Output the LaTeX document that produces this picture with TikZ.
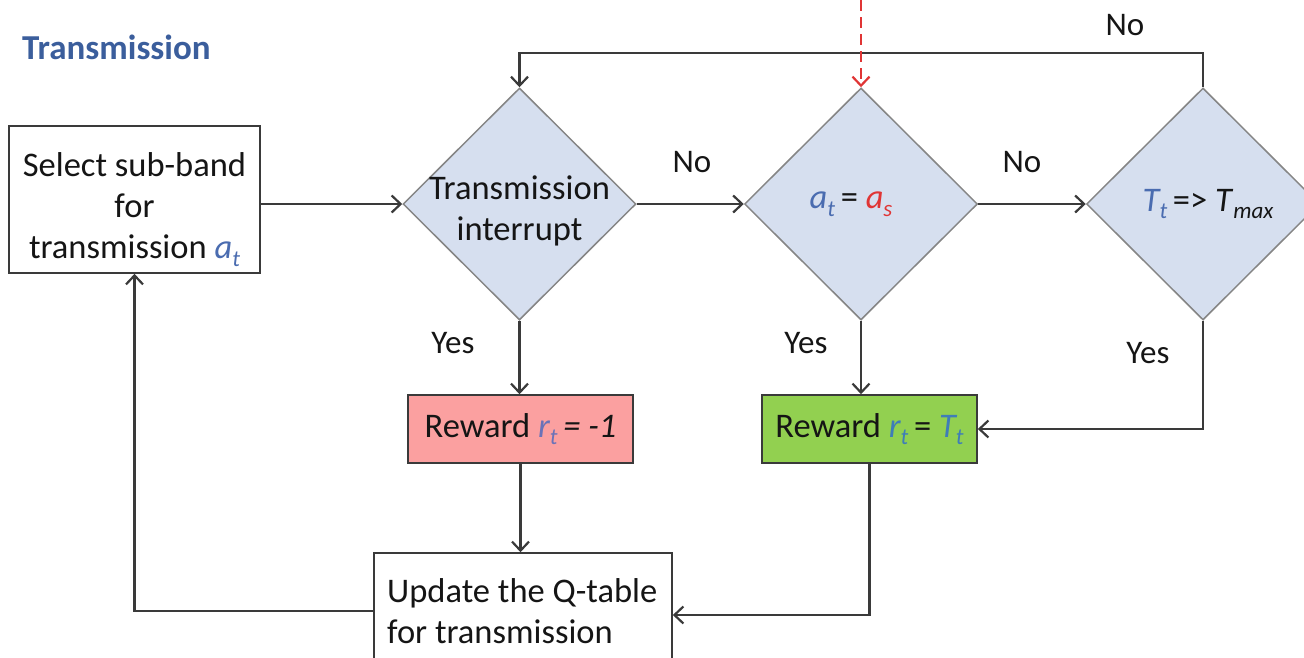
\documentclass[tikz,border=0pt]{standalone}
\usepackage{fontspec}
\setmainfont{Carlito}
\usetikzlibrary{shapes.geometric,arrows.meta}

\definecolor{linegray}{HTML}{3A3A3A}
\definecolor{diagray}{HTML}{858585}
\definecolor{diafill}{HTML}{D6DFEF}
\definecolor{titleblue}{HTML}{3B5E9C}
\definecolor{varblue}{HTML}{4A6CB0}
\definecolor{varred}{HTML}{E03535}
\definecolor{varviolet}{HTML}{6A72B8}
\definecolor{varteal}{HTML}{3F7DB8}
\definecolor{penalty}{HTML}{FBA0A0}
\definecolor{bonus}{HTML}{92D050}
\definecolor{inkblack}{HTML}{151515}

% italic subscript set lower and smaller
\newcommand\lowsub[1]{\raisebox{-0.22em}{\fontsize{23}{23}\selectfont\itshape #1}}
\newcommand\bodyfont{\fontsize{34.5}{41}\selectfont}

\begin{document}
\begin{tikzpicture}[x=1pt,y=-1pt,
  every node/.style={text=inkblack},
  box/.style={draw=linegray, line width=1.6pt, fill=white, inner sep=0pt, font=\bodyfont},
  decision/.style={diamond, draw=diagray, fill=diafill, line width=1.5pt,
    minimum width=233pt, minimum height=232pt, inner sep=0pt},
  flow/.style={draw=linegray, line width=2.4pt, -{Straight Barb[length=9pt,width=17pt,line width=2.2pt]}},
  answer/.style={font=\fontsize{33}{38}\selectfont, inner sep=0pt},
  title/.style={font=\bfseries\fontsize{35}{40}\selectfont, text=titleblue, inner sep=0pt}
]
\clip (0,0) rectangle (1304,657);

\node[title, anchor=west] (title) at (22,47) {Transmission};

% process boxes
\node[box, minimum width=251pt, minimum height=147pt, align=center] (select) at (134.5,199.5)
  {\rule{0pt}{44pt}Select sub-band\\for\\transmission \textit{\color{varblue}a}\lowsub{\color{varblue}t}};
\node[box, fill=penalty, minimum width=225pt, minimum height=68pt] (red) at (520.5,429)
  {Reward \textit{\color{varviolet}r}\lowsub{\color{varviolet}t}\,\textit{= -1}};
\node[box, fill=bonus, minimum width=215pt, minimum height=68pt] (green) at (869.5,429)
  {Reward \textit{\color{varteal}r}\lowsub{\color{varteal}t}\,= \textit{\color{varteal}T}\lowsub{\color{varteal}t}};
\node[box, minimum width=298pt, minimum height=116pt, align=left] (update) at (523,611)
  {Update the Q-table\\for transmission\hspace*{46pt}};

% decisions
\node[decision, label={[align=center, font=\bodyfont, yshift=-7pt]center:Transmission\\interrupt}] (d1) at (519.5,204) {};
\node[decision, label={[font=\bodyfont, xshift=-10pt]center:{\textit{\color{varblue}a}\lowsub{\color{varblue}t}\,= \textit{\color{varred}a}\lowsub{\color{varred}s}}}] (d2) at (861,204) {};
\node[decision, label={[font=\bodyfont, xshift=5pt]center:{\textit{\color{varblue}T}\lowsub{\color{varblue}t}\,=> \textit{T}\lowsub{max}}}] (d3) at (1203,204) {};

% loop-back and external entry points
\coordinate (looptop) at (1203,53);
\coordinate (ext) at (861,0);

% connectors
\draw[flow] (select.east |- d1.west) -- (d1.west);
\draw[flow] (d1.east) -- (d2.west);
\draw[flow] (d2.east) -- (d3.west);
\draw[flow] (d3.north) -- (looptop) -| (d1.north);
\draw[flow, draw=varred, dash pattern=on 11pt off 6pt] (ext) -- (d2.north);
\draw[flow] (d1.south) -- (d1.south |- red.north);
\draw[flow] (d2.south) -- (d2.south |- green.north);
\draw[flow] (d3.south) |- (green.east);
\draw[flow] (red.south) -- (red.south |- update.north);
\draw[flow] (green.south) |- ([yshift=-4pt]update.east);
\draw[flow] (update.west) -| (select.south);

% branch labels
\node[answer] (noloop) at (1125,25) {No};
\node[answer] (no1) at (692,162) {No};
\node[answer] (no2) at (1022,162) {No};
\node[answer] (yes1) at (453,343) {Yes};
\node[answer] (yes2) at (806,343) {Yes};
\node[answer] (yes3) at (1148,353) {Yes};
\end{tikzpicture}
\end{document}
